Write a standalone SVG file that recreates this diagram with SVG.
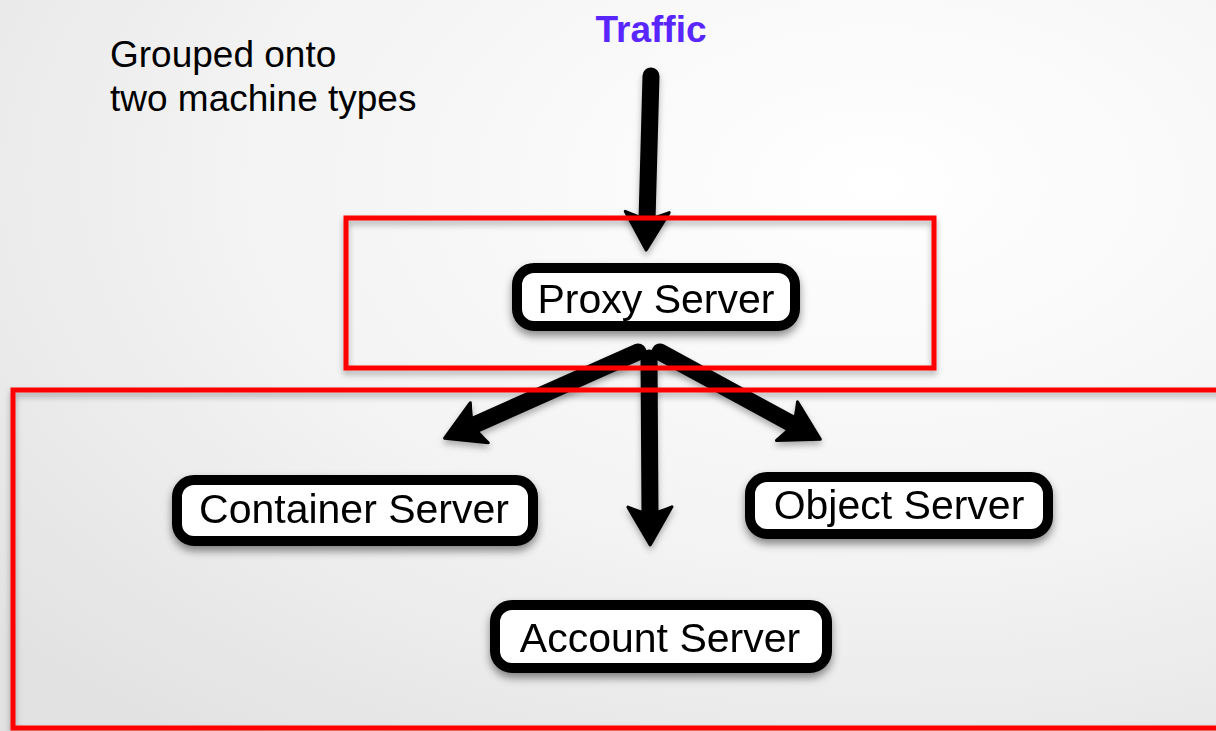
<svg xmlns="http://www.w3.org/2000/svg" width="1216" height="731" viewBox="0 0 1216 731">
  <defs>
    <radialGradient id="bg" cx="0.72" cy="0.25" r="0.95" fx="0.72" fy="0.25">
      <stop offset="0" stop-color="#ffffff"/>
      <stop offset="0.55" stop-color="#f3f3f3"/>
      <stop offset="1" stop-color="#e2e2e2"/>
    </radialGradient>
    <filter id="shadow" x="-20%" y="-30%" width="140%" height="170%">
      <feDropShadow dx="0" dy="5" stdDeviation="4" flood-color="#000" flood-opacity="0.45"/>
    </filter>
    <filter id="lshadow" filterUnits="userSpaceOnUse" x="0" y="0" width="1216" height="731">
      <feDropShadow dx="0" dy="4" stdDeviation="3" flood-color="#000" flood-opacity="0.3"/>
    </filter>
    <marker id="head" viewBox="-44 -26 48 52" refX="-30" refY="0" markerWidth="48" markerHeight="52" markerUnits="userSpaceOnUse" orient="auto" overflow="visible">
      <path d="M0,0 L-38,-22 Q-33,-10 -31,0 Q-33,10 -38,22 Z" fill="#000" stroke="#000" stroke-width="3" stroke-linejoin="round"/>
    </marker>
    <style>
      .conn { fill: none; stroke: #000; stroke-width: 17; stroke-linecap: round; marker-end: url(#head); }
      .group { fill: none; stroke: #ff0000; stroke-width: 5; }
      .box { fill: #ffffff; stroke: #000; stroke-width: 10; }
      .label { font-family: "Liberation Sans", Arial, sans-serif; font-size: 41px; fill: #000; text-anchor: middle; }
      .note { font-family: "Liberation Sans", Arial, sans-serif; font-size: 37px; fill: #000; }
    </style>
  </defs>

  <rect x="0" y="0" width="1216" height="731" fill="url(#bg)"/>

  <g id="note">
    <text class="note" x="110" y="67">Grouped onto</text>
    <text class="note" x="110" y="111">two machine types</text>
  </g>

  <g id="traffic">
    <text x="651" y="42" font-family="'Liberation Sans', Arial, sans-serif" font-size="37" font-weight="bold" fill="#5a26ff" text-anchor="middle">Traffic</text>
  </g>

  <g id="connectors" filter="url(#lshadow)">
    <path class="conn" d="M651,76 L647,220"/>
    <path class="conn" d="M638,352 L472,426"/>
    <path class="conn" d="M649,358 L650,515"/>
    <path class="conn" d="M660,352 L794,425"/>
  </g>

  <g id="groups" filter="url(#lshadow)">
    <rect id="proxy-group" class="group" x="346" y="218" width="588" height="150"/>
    <rect id="storage-group" class="group" x="13" y="390" width="1225" height="338"/>
  </g>

  <g id="proxy-server" filter="url(#shadow)">
    <rect class="box" x="517" y="268" width="278" height="58" rx="17"/>
    <text class="label" x="656" y="313">Proxy Server</text>
  </g>

  <g id="container-server" filter="url(#shadow)">
    <rect class="box" x="177" y="480" width="356" height="61" rx="17"/>
    <text class="label" x="354" y="523">Container Server</text>
  </g>

  <g id="object-server" filter="url(#shadow)">
    <rect class="box" x="750" y="477" width="298" height="57" rx="17"/>
    <text class="label" x="899" y="519">Object Server</text>
  </g>

  <g id="account-server" filter="url(#shadow)">
    <rect class="box" x="495" y="605" width="332" height="63" rx="17"/>
    <text class="label" x="660" y="652">Account Server</text>
  </g>
</svg>
